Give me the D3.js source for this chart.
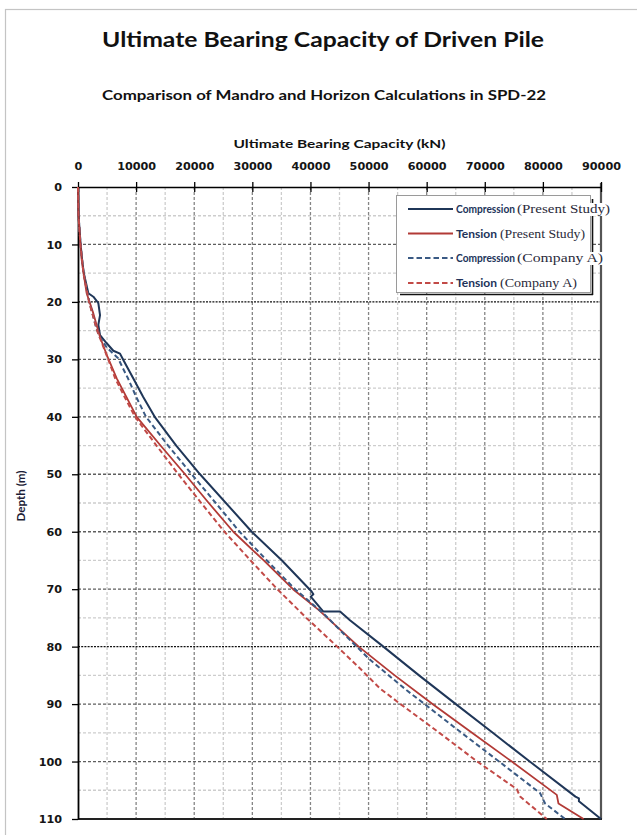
<!DOCTYPE html>
<html>
<head>
<meta charset="utf-8">
<script src="https://cdn.jsdelivr.net/npm/d3@7"></script>
<style>
  html, body { margin: 0; padding: 0; background: #fff; }
  svg { display: block; }
</style>
</head>
<body>
<script>
// ---------------- DATA ----------------
const xTicks = [0, 10000, 20000, 30000, 40000, 50000, 60000, 70000, 80000, 90000];
const yTicks = [0, 10, 20, 30, 40, 50, 60, 70, 80, 90, 100, 110];

const seriesNames = [
  ["Compression", "(Present Study)"],
  ["Tension", "(Present Study)"],
  ["Compression", "(Company A)"],
  ["Tension", "(Company A)"]
];

// Compression (Present Study)
const compPSDepth = [0, 5, 10, 12.7, 15, 18.5, 19.1, 20.2, 22.3, 24, 25.8, 27.2, 28.5, 29.0, 30.1, 33.3, 36.5, 40, 45, 50, 60, 65, 70.4, 70.9, 71.3, 73.9, 73.9, 75.4, 80, 85, 90, 95, 100, 106.1, 106.4, 106.9, 110];
const compPSValue = [0, 100, 450, 700, 1000, 1780, 2640, 3500, 3790, 3500, 3790, 4940, 6080, 7230, 7800, 9500, 11200, 13200, 16900, 21000, 29900, 35100, 40200, 40500, 40050, 42220, 45100, 46800, 52550, 58690, 65020, 71380, 77740, 85600, 86200, 86200, 90000];

// Tension (Present Study)
const tensPSDepth = [0, 5, 10, 12.7, 15, 18.5, 22, 26.1, 29.2, 33.3, 36.5, 40, 45, 50, 55, 60, 65, 70, 73.6, 80, 85, 90, 95, 100, 105.8, 107.3, 110];
const tensPSValue = [0, 80, 420, 640, 950, 1490, 2640, 3790, 4940, 6660, 8300, 10100, 14200, 18420, 22500, 26730, 31960, 37000, 41400, 48300, 54500, 61000, 67800, 74650, 82390, 82680, 87000];

// Compression (Company A)
const compADepth = [0, 5, 10, 15, 20, 24, 26, 28, 29.8, 31.9, 33.3, 36.5, 40, 45, 50, 55, 60, 65, 70, 74.2, 78.3, 82.3, 87.6, 90, 95, 100, 105.5, 107.3, 110];
const compAValue = [0, 90, 440, 960, 1950, 3000, 3650, 5000, 6900, 7900, 8600, 10000, 11700, 15500, 19570, 23700, 27800, 32500, 37350, 42220, 46250, 50260, 56560, 59650, 66000, 72470, 79520, 80380, 83820];

// Tension (Company A)
const tensADepth = [0, 5, 10, 15, 20, 25, 30, 33.3, 36.5, 40, 45, 50, 55, 60, 65, 70, 75, 80, 83.8, 87.3, 90, 95.1, 100, 104.8, 106.1, 110];
const tensAValue = [0, 80, 420, 940, 1900, 3300, 5200, 6400, 8000, 9810, 13500, 17270, 21200, 25200, 29700, 34300, 39300, 44600, 48540, 51980, 55500, 62310, 68700, 75510, 76080, 80670];

// ---------------- CHART ----------------
const W = 637, H = 835;
const svg = d3.select("body").append("svg").attr("width", W).attr("height", H);

// outer chart border
svg.append("rect").attr("x", 5.5).attr("y", 9.5).attr("width", 660).attr("height", 860)
  .attr("fill", "#fff").attr("stroke", "#c4c4c4").attr("stroke-width", 1.2);

const x = d3.scaleLinear().domain([0, 90000]).range([78, 601]);
const y = d3.scaleLinear().domain([0, 110]).range([187, 819]);

// Titles
function fitText(sel, len) { sel.attr("textLength", len).attr("lengthAdjust", "spacingAndGlyphs"); }
fitText(svg.append("text").attr("x", 323).attr("y", 46.5).attr("text-anchor", "middle")
  .attr("font-family", "Lato, 'Open Sans', sans-serif").attr("font-weight", 700).attr("font-size", 21)
  .attr("fill", "#111").text("Ultimate Bearing Capacity of Driven Pile"), 442);
fitText(svg.append("text").attr("x", 324).attr("y", 100).attr("text-anchor", "middle")
  .attr("font-family", "Lato, 'Open Sans', sans-serif").attr("font-weight", 700).attr("font-size", 14)
  .attr("fill", "#111").text("Comparison of Mandro and Horizon Calculations in SPD-22"), 444);
fitText(svg.append("text").attr("x", 339.5).attr("y", 147.5).attr("text-anchor", "middle")
  .attr("font-family", "Lato, 'Open Sans', sans-serif").attr("font-weight", 700).attr("font-size", 12)
  .attr("fill", "#111").text("Ultimate Bearing Capacity (kN)"), 212);
fitText(svg.append("text").attr("transform", "translate(25,496) rotate(-90)").attr("text-anchor", "middle")
  .attr("font-family", "Lato, 'Open Sans', sans-serif").attr("font-weight", 700).attr("font-size", 12)
  .attr("fill", "#1c1c36").text("Depth (m)"), 51);

// Grid
const grid = svg.append("g");
const vGrid = d3.range(5000, 90000, 5000);
const hGrid = d3.range(5, 110, 5);
const darkH = new Set([20, 80]);
grid.selectAll(".vg").data(vGrid).join("line")
  .attr("x1", d => x(d)).attr("x2", d => x(d)).attr("y1", y(0)).attr("y2", y(110))
  .attr("stroke", d => d % 10000 === 0 ? "#858585" : "#cdcdcd")
  .attr("stroke-width", 1.3).attr("stroke-dasharray", "3,2");
grid.selectAll(".hg").data(hGrid).join("line")
  .attr("x1", x(0)).attr("x2", x(90000)).attr("y1", d => y(d)).attr("y2", d => y(d))
  .attr("stroke", d => darkH.has(d) ? "#111" : (d % 10 === 0 ? "#5e5e5e" : "#cdcdcd"))
  .attr("stroke-width", 1.3)
  .attr("stroke-dasharray", d => darkH.has(d) ? "2,1.2" : "3,2");

// Right and bottom frame
svg.append("line").attr("x1", x(90000)).attr("x2", x(90000)).attr("y1", y(0) - 4).attr("y2", y(110))
  .attr("stroke", "#555").attr("stroke-width", 2.2);
svg.append("line").attr("x1", x(0)).attr("x2", x(90000) + 1).attr("y1", y(110)).attr("y2", y(110))
  .attr("stroke", "#222").attr("stroke-width", 2);

// Axes
const tickFont = "'DejaVu Sans', Verdana, sans-serif";
const xAxis = svg.append("g").attr("transform", `translate(0,${y(0)})`)
  .call(d3.axisTop(x).tickValues(xTicks).tickFormat(d3.format("d")).tickSize(5).tickSizeOuter(0).tickPadding(12));
xAxis.select(".domain").attr("stroke", "#000").attr("stroke-width", 1.6);
xAxis.selectAll(".tick line").attr("y1", 5).attr("y2", -5).attr("stroke", "#000").attr("stroke-width", 1.3);
xAxis.selectAll(".tick text").attr("font-family", tickFont).attr("font-weight", 700)
  .attr("font-size", 11.2).attr("fill", "#151515");

const yAxis = svg.append("g").attr("transform", `translate(${x(0)},0)`)
  .call(d3.axisLeft(y).tickValues(yTicks).tickSize(6).tickSizeOuter(0).tickPadding(10));
yAxis.select(".domain").attr("stroke", "#000").attr("stroke-width", 1.8);
yAxis.selectAll(".tick line").attr("stroke", "#000").attr("stroke-width", 1.3);
yAxis.selectAll(".tick text").attr("font-family", tickFont).attr("font-weight", 700)
  .attr("font-size", 11.2).attr("fill", "#151515");

// Series
const series = [
  { depth: compPSDepth, value: compPSValue, color: "#1f3658", dash: null, width: 2 },
  { depth: tensPSDepth, value: tensPSValue, color: "#b23a36", dash: null, width: 1.8 },
  { depth: compADepth, value: compAValue, color: "#3a5a84", dash: "5,3", width: 2 },
  { depth: tensADepth, value: tensAValue, color: "#c24a47", dash: "5,3", width: 2 }
];
const line = d3.line().x(d => x(d[1])).y(d => y(d[0]));
const plot = svg.append("g");
series.forEach(s => {
  const pts = s.depth.map((dp, i) => [dp, s.value[i]]);
  plot.append("path").datum(pts).attr("d", line).attr("fill", "none")
    .attr("stroke", s.color).attr("stroke-width", s.width)
    .attr("stroke-dasharray", s.dash).attr("stroke-linejoin", "round");
});

// Legend
const lg = svg.append("g");
lg.append("line").attr("x1", 400).attr("x2", 593).attr("y1", 294.5).attr("y2", 294.5).attr("stroke", "#111").attr("stroke-width", 1.6);
lg.append("line").attr("x1", 592.5).attr("x2", 592.5).attr("y1", 199).attr("y2", 295).attr("stroke", "#111").attr("stroke-width", 1.6);
lg.append("rect").attr("x", 396.5).attr("y", 195.5).attr("width", 194).attr("height", 97)
  .attr("fill", "#fff").attr("stroke", "#9a9a9a").attr("stroke-width", 1);
const rowY = [209, 233.5, 258, 283];
const partA = [[456, 59], [456, 41], [456, 59], [456, 41]];
const partB = [[517, 93], [500, 85], [517, 86], [500, 77]];
series.forEach((s, i) => {
  const g = lg.append("g");
  const bg = g.append("rect").attr("fill", "#fff");
  g.append("line").attr("x1", 408).attr("x2", 453).attr("y1", rowY[i]).attr("y2", rowY[i])
    .attr("stroke", s.color).attr("stroke-width", s.width).attr("stroke-dasharray", s.dash ? "5.5,3" : null);
  const t1 = g.append("text").attr("x", partA[i][0]).attr("y", rowY[i] + 4)
    .attr("font-family", "Lato, sans-serif").attr("font-weight", 700).attr("font-size", 11.5).attr("fill", "#22335a")
    .text(seriesNames[i][0]);
  fitText(t1, partA[i][1]);
  const t2 = g.append("text").attr("x", partB[i][0]).attr("y", rowY[i] + 4)
    .attr("font-family", "'Liberation Serif', 'DejaVu Serif', serif").attr("font-size", 12).attr("fill", "#2a2a3a")
    .text(seriesNames[i][1]);
  fitText(t2, partB[i][1]);
  const x0 = partA[i][0] - 1, x1 = partB[i][0] + partB[i][1] + 1;
  bg.attr("x", x0).attr("y", rowY[i] - 6).attr("width", x1 - x0).attr("height", 13);
});
</script>
</body>
</html>
